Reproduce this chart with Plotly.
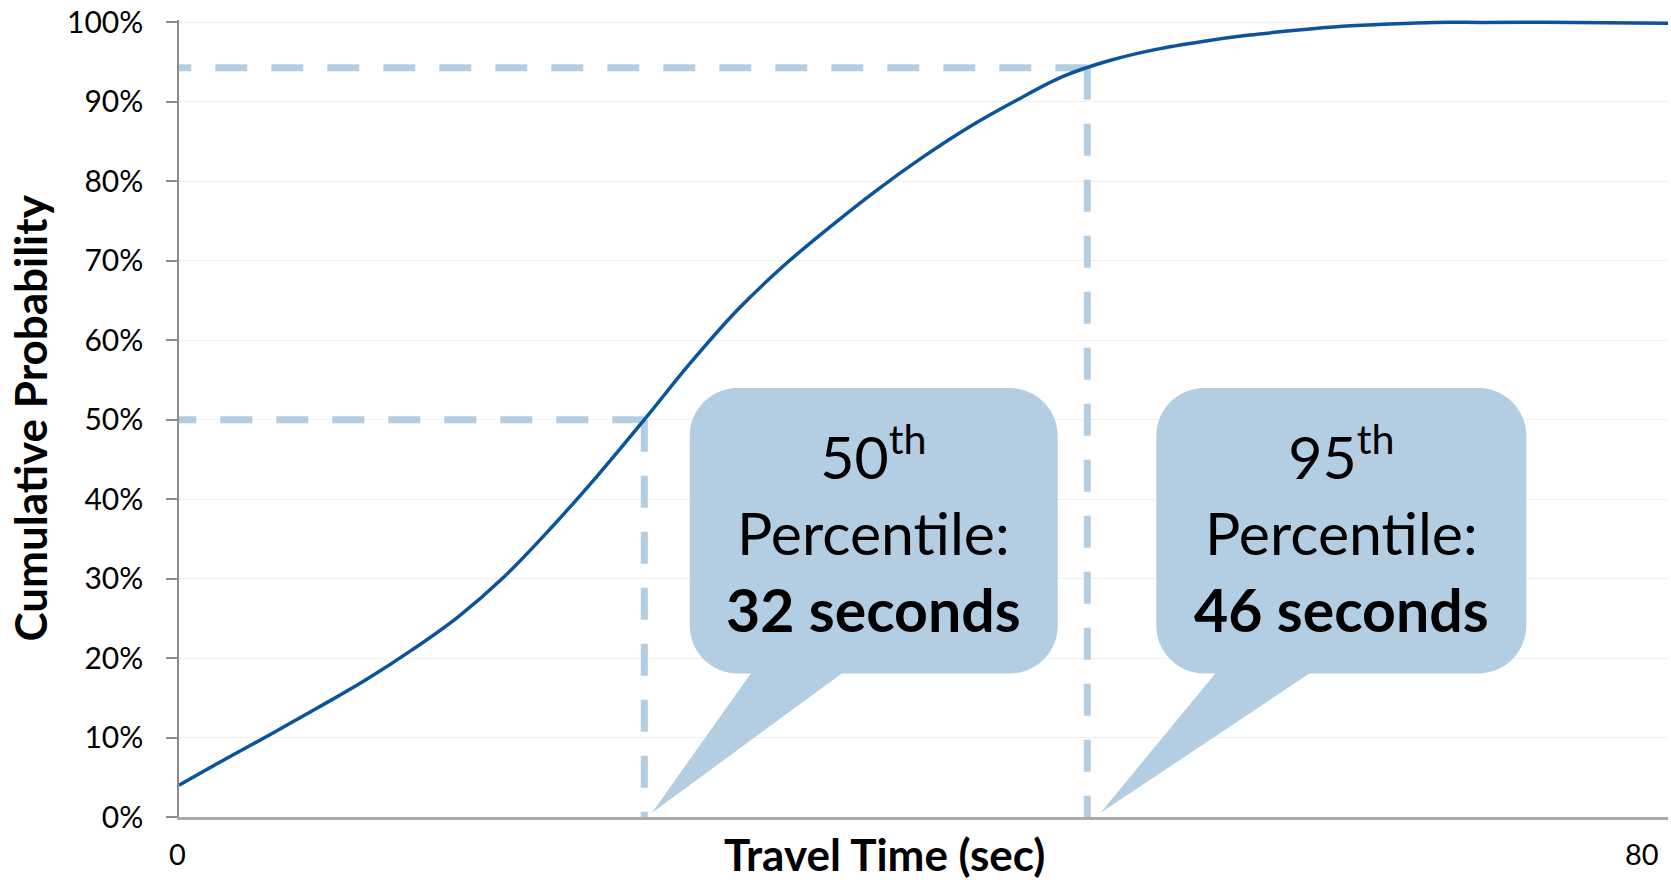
import plotly.graph_objects as go

# Cumulative distribution of travel time
travel_time = [0, 2.5, 5, 7.5, 10, 12.5, 15, 17.5, 20, 22.5, 25, 27.5, 30, 32.5,
               35, 37.5, 40, 42.5, 45, 47.5, 50, 52.5, 55, 57.5, 60, 62.5, 65,
               67.5, 70, 75, 80]
cum_prob = [4.0, 7.3, 10.5, 13.8, 17.2, 21.0, 25.2, 30.3, 36.4, 43.0, 50.0,
            57.2, 63.8, 69.4, 74.3, 78.9, 83.1, 86.9, 90.2, 93.2, 95.2, 96.6,
            97.6, 98.4, 99.0, 99.5, 99.8, 100, 100, 100, 99.9]

# Percentile guide lines (corner on the curve) and their callouts
guide_x = [25.0, 48.8]
guide_y = [50.0, 94.3]
pct_rank = ["50", "95"]
pct_seconds = [32, 46]
callout_tip_x = [25.4, 49.5]
callout_tip_y = [0.5, 0.5]

# Axis ticks
y_ticks = [0, 10, 20, 30, 40, 50, 60, 70, 80, 90, 100]
y_tick_text = [f"{v}%" for v in y_ticks]
x_ticks = [0, 80]
x_tick_text = ["0", "80"]

FONT = "Lato"
CURVE = "#0B549C"
GUIDE = "#B3CEE3"

fig = go.Figure()

for gx, gy in zip(guide_x, guide_y):
    # each leg starts at the corner so the dash pattern runs outward
    fig.add_trace(go.Scatter(
        x=[gx, 0, None, gx, gx], y=[gy, gy, None, gy, 0], mode="lines",
        line=dict(color=GUIDE, width=7, dash="32px,24px"),
        hoverinfo="skip", showlegend=False))

fig.add_trace(go.Scatter(
    x=travel_time, y=cum_prob, mode="lines",
    line=dict(color=CURVE, width=3.5, shape="spline", smoothing=1.0),
    showlegend=False))


def callout_path(L, R, B, T, a, b, r):
    k = 0.4477 * r
    return (f"M 0,0 L {a},{B} L {L + r},{B} C {L + k},{B} {L},{B + k} {L},{B + r} "
            f"L {L},{T - r} C {L},{T - k} {L + k},{T} {L + r},{T} "
            f"L {R - r},{T} C {R - k},{T} {R},{T - k} {R},{T - r} "
            f"L {R},{B + r} C {R},{B + k} {R - k},{B} {R - r},{B} L {b},{B} Z")


# box geometry in pixels relative to the pointer tip: left, right, bottom, top, tail base
box_geom = [(38, 406, 139.5, 425, 99, 190), (56, 426, 139.5, 425, 115, 209)]

for tx, ty, (L, R, B, T, a, b), rank, sec in zip(
        callout_tip_x, callout_tip_y, box_geom, pct_rank, pct_seconds):
    fig.add_shape(type="path", xref="x", yref="y",
                  xsizemode="pixel", ysizemode="pixel",
                  xanchor=tx, yanchor=ty,
                  path=callout_path(L, R, B, T, a, b, 48),
                  fillcolor=GUIDE, line=dict(width=0), layer="above")
    fig.add_annotation(
        x=tx, y=ty, xref="x", yref="y", xshift=(L + R) / 2, yshift=(B + T) / 2 + 2,
        xanchor="center", yanchor="middle", showarrow=False, align="center",
        text=f"{rank}<sup>th</sup><br>Percentile:<br><b>{sec} seconds</b>",
        font=dict(family=FONT, size=59, color="#000000"))

# x tick labels (the last one is pulled inside the page edge)
for xv, xt in zip(x_ticks, x_tick_text):
    fig.add_annotation(
        x=xv, y=0, xref="x", yref="y", yshift=-36,
        xanchor="center" if xv == x_ticks[0] else "right",
        xshift=-2 if xv == x_ticks[0] else -7,
        yanchor="middle", showarrow=False, text=xt,
        font=dict(family=FONT, size=29, color="#000000"))

# axis titles
fig.add_annotation(x=0, y=0.5, xref="paper", yref="paper", xshift=-150,
                   xanchor="center", yanchor="middle", textangle=-90, showarrow=False,
                   text="<b>Cumulative Probability</b>",
                   font=dict(family=FONT, size=44, color="#000000"))
fig.add_annotation(x=0.474, y=0, xref="paper", yref="paper", yshift=-37,
                   xanchor="center", yanchor="middle", showarrow=False, borderpad=0,
                   text="<b>Travel Time (sec)</b>",
                   font=dict(family=FONT, size=44, color="#000000"))

fig.update_layout(
    width=1671, height=880,
    margin=dict(l=179, r=3, t=20, b=63),
    paper_bgcolor="white", plot_bgcolor="white",
    xaxis=dict(range=[0, 80], showgrid=False, zeroline=False,
               showticklabels=False, ticks="",
               showline=True, linecolor="#AAAAAA", linewidth=2.5),
    yaxis=dict(range=[0, 100.3], tickvals=y_ticks, ticktext=y_tick_text,
               showgrid=True, gridcolor="#EFEFEF", gridwidth=1.2,
               zeroline=False, showline=True, linecolor="#8C8C8C", linewidth=1.5,
               ticks="outside", ticklen=11, tickcolor="#8C8C8C", tickwidth=1.5,
               ticklabelstandoff=17,
               tickfont=dict(family=FONT, size=30, color="#000000")),
)

fig.write_html("out.html")
